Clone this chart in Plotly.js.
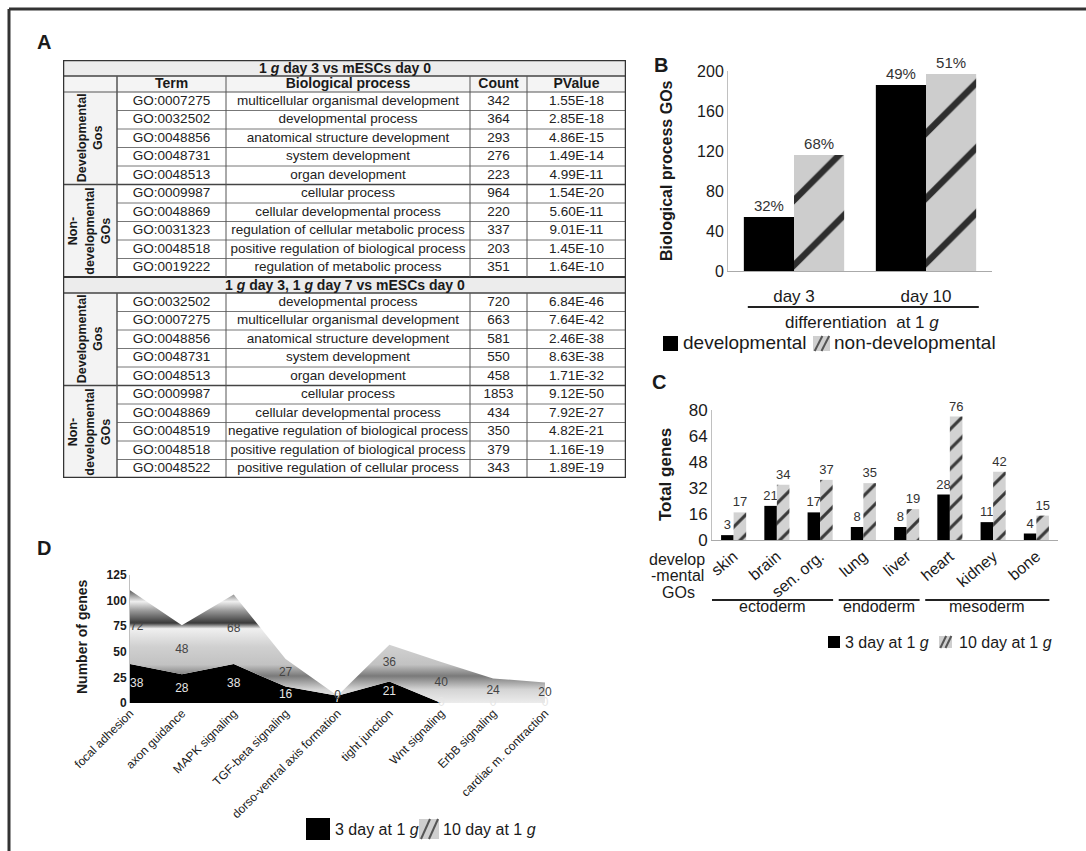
<!DOCTYPE html>
<html><head><meta charset="utf-8">
<script src="https://cdn.plot.ly/plotly-3.0.1.min.js"></script>
<style>html,body{margin:0;padding:0;background:#fff}#chart{width:1086px;height:851px}</style>
</head><body><div id="chart"></div>
<script>
// ---------------- Panel A data ----------------
const sectionTitles = ['1 <i>g</i> day 3 vs mESCs day 0', '1 <i>g</i> day 3, 1 <i>g</i> day 7 vs mESCs day 0'];
const headerLabels = ['Term', 'Biological process', 'Count', 'PValue'];
const groupNames = ['Developmental<br>Gos', 'Non-<br>developmental<br>GOs'];
const groupSizes = [5, 5];

const terms1 = ['GO:0007275','GO:0032502','GO:0048856','GO:0048731','GO:0048513','GO:0009987','GO:0048869','GO:0031323','GO:0048518','GO:0019222'];
const processes1 = ['multicellular organismal development','developmental process','anatomical structure development','system development','organ development','cellular process','cellular developmental process','regulation of cellular metabolic process','positive regulation of biological process','regulation of metabolic process'];
const counts1 = [342,364,293,276,223,964,220,337,203,351];
const pvalues1 = ['1.55E-18','2.85E-18','4.86E-15','1.49E-14','4.99E-11','1.54E-20','5.60E-11','9.01E-11','1.45E-10','1.64E-10'];

const terms2 = ['GO:0032502','GO:0007275','GO:0048856','GO:0048731','GO:0048513','GO:0009987','GO:0048869','GO:0048519','GO:0048518','GO:0048522'];
const processes2 = ['developmental process','multicellular organismal development','anatomical structure development','system development','organ development','cellular process','cellular developmental process','negative regulation of biological process','positive regulation of biological process','positive regulation of cellular process'];
const counts2 = [720,663,581,550,458,1853,434,350,379,343];
const pvalues2 = ['6.84E-46','7.64E-42','2.46E-38','8.63E-38','1.71E-32','9.12E-50','7.92E-27','4.82E-21','1.16E-19','1.89E-19'];

// ---------------- Panel B data ----------------
const bCategories = ['day 3', 'day 10'];
const bDevelopmental = [54, 186];
const bNonDevelopmental = [116, 197];

// ---------------- Panel C data ----------------
const cTissues = ['skin','brain','sen. org.','lung','liver','heart','kidney','bone'];
const cDay3 = [3, 21, 17, 8, 8, 28, 11, 4];
const cDay10 = [17, 34, 37, 35, 19, 76, 42, 15];
const cGermLayers = ['ectoderm', 'endoderm', 'mesoderm'];
const cGermLayerSizes = [3, 2, 3];

// ---------------- Panel D data ----------------
const dPathways = ['focal adhesion','axon guidance','MAPK signaling','TGF-beta signaling','dorso-ventral axis formation','tight junction','Wnt signaling','ErbB signaling','cardiac m. contraction'];
const dDay3 = [38, 28, 38, 16, 7, 21, 0, 0, 0];
const dDay10 = [72, 48, 68, 27, 0, 36, 40, 24, 20];

// ---------------- helpers / style ----------------
const W = 1086, H = 851;
const px = x => x / W, py = y => 1 - y / H;
const FONT = 'Arial, "Liberation Sans", Helvetica, sans-serif';
const INK = '#1a1a1a';

const traces = [];
const shapes = [];
const annotations = [];

function ann(text, x, y, size, opts) {
  annotations.push(Object.assign({text, x: px(x), y: py(y), xref: 'paper', yref: 'paper', showarrow: false,
    font: {family: FONT, size, color: INK}, xanchor: 'center', yanchor: 'middle'}, opts || {}));
}
function pline(x0, y0, x1, y1, w, c) {
  shapes.push({type: 'line', xref: 'paper', yref: 'paper', x0: px(x0), y0: py(y0), x1: px(x1), y1: py(y1), line: {color: c || '#222', width: w}});
}
function prect(x0, y0, x1, y1, fill) {
  shapes.push({type: 'rect', xref: 'paper', yref: 'paper', x0: px(x0), y0: py(y0), x1: px(x1), y1: py(y1), fillcolor: fill, line: {width: 0}});
}
function hatchSwatch(x0, y0, x1, y1) {
  prect(x0, y0, x1, y1, '#cfcfcf');
  const w = x1 - x0;
  pline(x0 + w * 0.1, y1, x0 + w * 0.55, y0, 2, '#555');
  pline(x0 + w * 0.5, y1, x0 + w * 0.95, y0, 2, '#555');
}

// ---------------- frame ----------------
pline(9, 9, 1086, 9, 3, '#333');
pline(9, 9, 9, 851, 3, '#333');

// ---------------- Panel letters ----------------
ann('<b>A</b>', 44, 42, 20);
ann('<b>B</b>', 661, 65, 20);
ann('<b>C</b>', 659, 382, 20);
ann('<b>D</b>', 44, 548, 20);

// ---------------- Panel A: table on hidden axes x4/y4 ----------------
const colEdges = [0, 54, 163, 407, 464, 563];
const titleH = 16, headH = 16, rowH = 18.5;
const sec1Top = 0, rows1Top = titleH + headH;
const sec2Top = rows1Top + rowH * terms1.length;
const rows2Top = sec2Top + titleH;
const tableBottom = rows2Top + rowH * terms2.length;
const TFS = 13.5;

function trect(x0, y0, x1, y1, fill) {
  shapes.push({type: 'rect', xref: 'x4', yref: 'y4', x0, y0, x1, y1, fillcolor: fill, line: {width: 0}, layer: 'below'});
}
function tline(x0, y0, x1, y1, w, c) {
  shapes.push({type: 'line', xref: 'x4', yref: 'y4', x0, y0, x1, y1, line: {color: c || '#666', width: w}});
}
const tRight = colEdges[colEdges.length - 1];
trect(0, sec1Top, tRight, sec1Top + titleH, '#ececec');
trect(0, sec1Top + titleH, tRight, rows1Top, '#f4f4f4');
trect(0, rows1Top, colEdges[1], sec2Top, '#f3f3f3');
trect(0, sec2Top, tRight, rows2Top, '#ececec');
trect(0, rows2Top, colEdges[1], tableBottom, '#f3f3f3');
tline(0, sec1Top + titleH, tRight, sec1Top + titleH, 1.5, '#444');
tline(0, rows1Top, tRight, rows1Top, 1.2, '#555');
function rowLines(top, n) {
  let k = 0;
  groupSizes.forEach((g) => {
    for (let i = 1; i <= g; i++) {
      const y = top + rowH * (k + i);
      if (k + i >= n) break;
      if (i === g) tline(0, y, tRight, y, 1.5, '#444');
      else tline(colEdges[1], y, tRight, y, 1, '#777');
    }
    k += g;
  });
}
rowLines(rows1Top, terms1.length);
rowLines(rows2Top, terms2.length);
tline(0, sec2Top, tRight, sec2Top, 2, '#333');
tline(0, rows2Top, tRight, rows2Top, 1.5, '#444');
colEdges.slice(1, -1).forEach((x, i) => {
  const w = i === 0 ? 1.5 : 1;
  tline(x, sec1Top + titleH, x, sec2Top, w, '#555');
  tline(x, rows2Top, x, tableBottom, w, '#555');
});
tline(0, 0, tRight, 0, 2.5, '#333');
tline(0, tableBottom, tRight, tableBottom, 2.5, '#333');
tline(0, 0, 0, tableBottom, 2.5, '#333');
tline(tRight, 0, tRight, tableBottom, 2.5, '#333');

[sec1Top, sec2Top].forEach((top, i) => {
  annotations.push({text: '<b>' + sectionTitles[i] + '</b>', xref: 'x4', yref: 'y4', x: tRight / 2, y: top + titleH / 2,
    showarrow: false, font: {family: FONT, size: 14, color: INK}});
});
const colCenters = colEdges.slice(1, -1).map((e, i) => (e + colEdges[i + 2]) / 2);
traces.push({type: 'scatter', mode: 'text', xaxis: 'x4', yaxis: 'y4', x: colCenters,
  y: colCenters.map(() => sec1Top + titleH + headH / 2), text: headerLabels.map(t => '<b>' + t + '</b>'),
  textfont: {family: FONT, size: 14, color: INK}, cliponaxis: false, hoverinfo: 'skip'});
const ys1 = terms1.map((_, i) => rows1Top + rowH * (i + 0.5));
const ys2 = terms2.map((_, i) => rows2Top + rowH * (i + 0.5));
const allY = ys1.concat(ys2);
[[terms1, terms2], [processes1, processes2], [counts1, counts2], [pvalues1, pvalues2]].forEach((pair, j) => {
  traces.push({type: 'scatter', mode: 'text', xaxis: 'x4', yaxis: 'y4',
    x: allY.map(() => colCenters[j]), y: allY, text: pair[0].concat(pair[1]).map(String),
    textfont: {family: FONT, size: TFS, color: '#222'}, cliponaxis: false, hoverinfo: 'skip'});
});
[rows1Top, rows2Top].forEach(top => {
  let k = 0;
  groupNames.forEach((g, gi) => {
    annotations.push({text: '<b>' + g + '</b>', xref: 'x4', yref: 'y4', x: colEdges[1] / 2,
      y: top + rowH * (k + groupSizes[gi] / 2), textangle: -90, showarrow: false,
      font: {family: FONT, size: 12.5, color: INK}});
    k += groupSizes[gi];
  });
});

// ---------------- Panel B ----------------
const bPctDev = bDevelopmental.map((d, i) => Math.round(100 * d / (d + bNonDevelopmental[i])) + '%');
const bPctNon = bNonDevelopmental.map((n, i) => Math.round(100 * n / (n + bDevelopmental[i])) + '%');
traces.push({type: 'bar', x: bCategories, y: bDevelopmental, xaxis: 'x', yaxis: 'y', width: 0.38, offset: -0.38,
  marker: {color: '#000', line: {width: 0}}, text: bPctDev, textposition: 'outside', constraintext: 'none', textangle: 0,
  textfont: {family: FONT, size: 15, color: '#333'}, cliponaxis: false, hoverinfo: 'skip'});
traces.push({type: 'bar', x: bCategories, y: bNonDevelopmental, xaxis: 'x', yaxis: 'y', width: 0.38, offset: 0,
  marker: {color: '#cfcfcf', line: {width: 0}, pattern: {shape: '/', size: 46, solidity: 0.14, fgcolor: '#2e2e2e', bgcolor: '#cdcdcd', fillmode: 'replace'}},
  text: bPctNon, textposition: 'outside', constraintext: 'none', textangle: 0,
  textfont: {family: FONT, size: 15, color: '#333'}, cliponaxis: false, hoverinfo: 'skip'});
ann('<b>Biological process GOs</b>', 666, 171, 16, {textangle: -90});
shapes.push({type: 'line', xref: 'x', yref: 'paper', x0: -0.35, x1: 1.4, y0: py(307), y1: py(307), line: {color: '#222', width: 2}});
ann('differentiation  at 1 <i>g</i>', 862, 322, 17);
prect(663, 336, 678, 351, '#000');
ann('developmental', 681, 343, 19, {xanchor: 'left'});
hatchSwatch(813, 336, 830, 351);
ann('non-developmental', 832, 343, 19, {xanchor: 'left'});

// ---------------- Panel C ----------------
traces.push({type: 'bar', x: cTissues, y: cDay3, xaxis: 'x2', yaxis: 'y2', width: 0.29, offset: -0.29,
  marker: {color: '#000', line: {width: 0}}, text: cDay3.map(String), textposition: 'outside', constraintext: 'none', textangle: 0,
  textfont: {family: FONT, size: 13, color: '#333'}, cliponaxis: false, hoverinfo: 'skip'});
traces.push({type: 'bar', x: cTissues, y: cDay10, xaxis: 'x2', yaxis: 'y2', width: 0.29, offset: 0,
  marker: {color: '#cfcfcf', line: {width: 0}, pattern: {shape: '/', size: 14, solidity: 0.22, fgcolor: '#3a3a3a', bgcolor: '#d2d2d2', fillmode: 'replace'}},
  text: cDay10.map(String), textposition: 'outside', constraintext: 'none', textangle: 0,
  textfont: {family: FONT, size: 13, color: '#333'}, cliponaxis: false, hoverinfo: 'skip'});
ann('<b>Total genes</b>', 665, 475, 17, {textangle: -90});
ann('develop', 677, 559, 16);
ann('-mental', 677, 575, 16);
ann('GOs', 678, 592, 16);
{
  let start = 0;
  cGermLayers.forEach((name, i) => {
    const x0 = start - 0.5 + (i === 0 ? 0 : -0.07);
    const x1 = start + cGermLayerSizes[i] - 1 + 0.3;
    shapes.push({type: 'line', xref: 'x2', yref: 'paper', x0, x1, y0: py(600), y1: py(600), line: {color: '#222', width: 2}});
    annotations.push({text: name, xref: 'x2', yref: 'paper', x: (x0 + x1) / 2, y: py(617), showarrow: false,
      font: {family: FONT, size: 16, color: INK}});
    start += cGermLayerSizes[i];
  });
}
prect(828, 636, 840, 648, '#000');
ann('3 day at 1 <i>g</i>', 843, 642, 16, {xanchor: 'left'});
hatchSwatch(939, 636, 952, 648);
ann('10 day at 1 <i>g</i>', 957, 642, 16, {xanchor: 'left'});

// ---------------- Panel D ----------------
traces.push({type: 'scatter', x: dPathways, y: dDay3, xaxis: 'x3', yaxis: 'y3', stackgroup: 'd', mode: 'none',
  fillcolor: '#000', line: {width: 0}, hoverinfo: 'skip'});
traces.push({type: 'scatter', x: dPathways, y: dDay10, xaxis: 'x3', yaxis: 'y3', stackgroup: 'd', mode: 'none',
  fillcolor: '#c8c8c8', line: {width: 0}, hoverinfo: 'skip',
  fillgradient: {type: 'vertical', start: 0, stop: 110, colorscale: [
    [0, '#ececec'], [0.12, '#d4d4d4'], [0.24, '#7a7a7a'], [0.34, '#c2c2c2'], [0.5, '#d0d0d0'],
    [0.66, '#f0f0f0'], [0.71, '#3a3a3a'], [0.82, '#9a9a9a'], [0.9, '#efefef'], [1, '#5a5a5a']]}});
const dPos = dPathways.map((_, i) => i === 0 ? 'middle right' : 'middle center');
traces.push({type: 'scatter', mode: 'text', x: dPathways, y: dDay3.map(v => v / 2), xaxis: 'x3', yaxis: 'y3',
  text: dDay3.map(String), textposition: dPos, textfont: {family: FONT, size: 12, color: '#e6e6e6'}, cliponaxis: false, hoverinfo: 'skip'});
traces.push({type: 'scatter', mode: 'text', x: dPathways, y: dDay10.map((v, i) => dDay3[i] + v / 2), xaxis: 'x3', yaxis: 'y3',
  text: dDay10.map(String), textposition: dPos, textfont: {family: FONT, size: 12, color: '#444'}, cliponaxis: false, hoverinfo: 'skip'});
ann('<b>Number of genes</b>', 82, 637, 14, {textangle: -90});
prect(306, 818, 330, 840, '#000');
ann('3 day at 1 <i>g</i>', 333, 829, 16, {xanchor: 'left'});
hatchSwatch(419, 819, 439, 839);
ann('10 day at 1 <i>g</i>', 441, 829, 16, {xanchor: 'left'});

// ---------------- layout ----------------
const baseAxis = {showgrid: false, zeroline: false, ticks: '', fixedrange: true};
const layout = {
  width: W, height: H, margin: {l: 0, r: 0, t: 0, b: 0},
  paper_bgcolor: '#fff', plot_bgcolor: 'rgba(0,0,0,0)', showlegend: false, barmode: 'overlay',
  font: {family: FONT, color: INK},
  xaxis: Object.assign({}, baseAxis, {domain: [px(728), px(992)], anchor: 'y', type: 'category', range: [-0.5, 1.5],
    showline: true, linecolor: '#aaa', linewidth: 1, tickfont: {size: 17, color: INK}, ticklabelstandoff: 10}),
  yaxis: Object.assign({}, baseAxis, {domain: [py(271), py(71)], anchor: 'x', range: [0, 200], dtick: 40,
    showline: true, linecolor: '#c0c0c0', linewidth: 1, tickfont: {size: 16, color: INK}}),
  xaxis2: Object.assign({}, baseAxis, {domain: [px(712), px(1058)], anchor: 'y2', type: 'category', range: [-0.5, 7.5],
    showline: true, linecolor: '#aaa', linewidth: 1, tickangle: -40, tickfont: {size: 16, color: INK}}),
  yaxis2: Object.assign({}, baseAxis, {domain: [py(540), py(410)], anchor: 'x2', range: [0, 80], dtick: 16,
    showline: true, linecolor: '#c0c0c0', linewidth: 1, tickfont: {size: 17, color: INK}}),
  xaxis3: Object.assign({}, baseAxis, {domain: [px(130), px(545)], anchor: 'y3', type: 'category', range: [0, 8],
    showline: false, tickangle: -45, tickfont: {size: 12, color: INK}}),
  yaxis3: Object.assign({}, baseAxis, {domain: [py(703), py(575)], anchor: 'x3', range: [0, 125], dtick: 25,
    showline: true, linecolor: '#c0c0c0', linewidth: 1, tickfont: {size: 12, color: INK, weight: 'bold'}}),
  xaxis4: {domain: [px(63), px(626)], anchor: 'y4', range: [0, 563], visible: false, fixedrange: true},
  yaxis4: {domain: [py(478), py(60)], anchor: 'x4', range: [418, 0], visible: false, fixedrange: true},
  shapes, annotations
};
Plotly.newPlot('chart', traces, layout, {staticPlot: true, displayModeBar: false});
</script>
</body></html>
